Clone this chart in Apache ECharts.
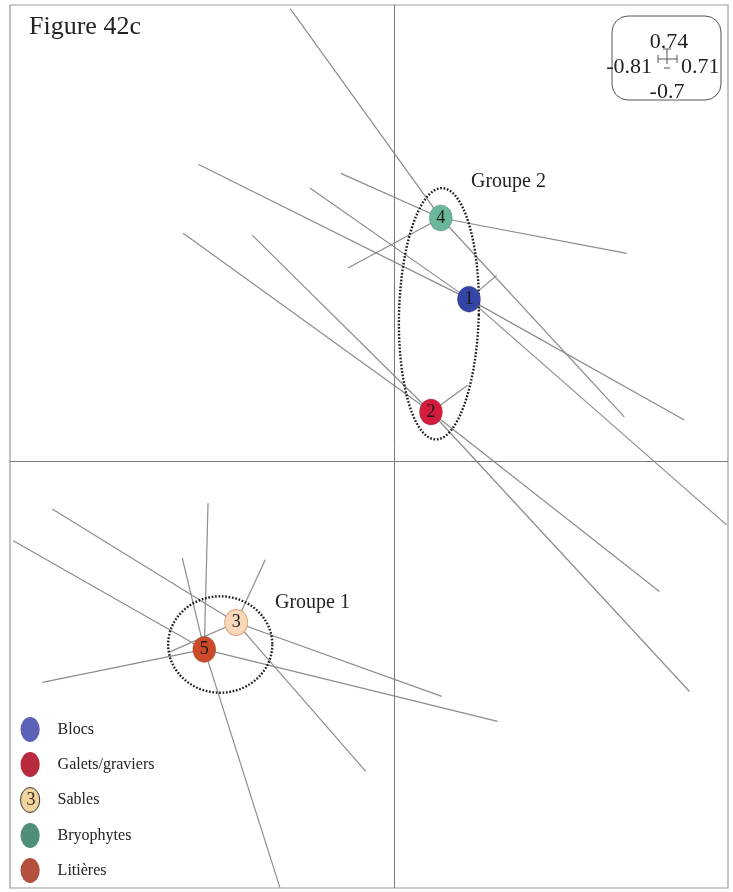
<!DOCTYPE html>
<html><head><meta charset="utf-8">
<script src="https://cdn.jsdelivr.net/npm/echarts@6/dist/echarts.min.js"></script>
<style>html,body{margin:0;padding:0;background:#fff}#c{width:733px;height:892px}</style>
</head><body><div id="c"></div>
<script>
// ---- data ----
const classNames  = ['Blocs', 'Galets/graviers', 'Sables', 'Bryophytes', 'Litières'];
const classLabels = ['1', '2', '3', '4', '5'];
const centroidX   = [0.160, 0.079, -0.336, 0.100, -0.404];
const centroidY   = [0.265, 0.080, -0.265, 0.398, -0.309];

const blocsX   = [-0.417, -0.179, 0.219, 0.619, 0.709];
const blocsY   = [ 0.486,  0.447, 0.304, 0.067, -0.105];
const galetsX  = [-0.449, -0.302, 0.157, 0.566, 0.630];
const galetsY  = [ 0.373,  0.370, 0.124, -0.214, -0.378];
const sablesX  = [-0.728, -0.274, 0.102, -0.060, -0.477];
const sablesY  = [-0.079, -0.162, -0.386, -0.509, -0.313];
const bryoX    = [-0.221, -0.113, -0.098, 0.496, 0.491];
const bryoY    = [ 0.741,  0.471,  0.316, 0.340, 0.072];
const litiereX = [-0.811, -0.749, -0.396, -0.451, -0.243, 0.221];
const litiereY = [-0.131, -0.363, -0.069, -0.159, -0.699, -0.427];

const groupNames   = ['Groupe 2', 'Groupe 1'];
const groupCenterX = [0.096, -0.370];
const groupCenterY = [0.241, -0.301];
const groupRadX    = [0.085, 0.111];
const groupRadY    = [0.206, 0.079];
const groupTiltDeg = [1.5, 0];

const xRange = [-0.818, 0.712];
const yRange = [-0.700, 0.747];
const scaleBoxLabels = ['0.74', '-0.81', '0.71', '-0.7'];
const figureTitle = 'Figure 42c';

// ---- styles ----
const markerColors = ['#3445a5', '#d41c3c', '#f7d8b8', '#6ab89a', '#cc4a28'];
const legendColors = ['#5b62b8', '#b82a3e', '#f0d49e', '#4f8f78', '#b4503e'];
const serif = '"Liberation Serif", "DejaVu Serif", serif';
const ellipsePath = 'path://M0,13a10,13 0 1,0 20,0a10,13 0 1,0 -20,0z';

const sampleX = [blocsX, galetsX, sablesX, bryoX, litiereX];
const sampleY = [blocsY, galetsY, sablesY, bryoY, litiereY];

const segs = [];
classNames.forEach((n, i) => {
  sampleX[i].forEach((x, j) => {
    segs.push({ coords: [[centroidX[i], centroidY[i]], [x, sampleY[i][j]]] });
  });
});

const series = [
  {
    type: 'lines', coordinateSystem: 'cartesian2d', data: segs, silent: true, z: 2,
    lineStyle: { color: '#8c8c8c', width: 1.2, opacity: 1 },
    markLine: {
      silent: true, symbol: 'none', label: { show: false },
      lineStyle: { color: '#7a7a7a', type: 'solid', width: 1 },
      data: [{ xAxis: 0 }, { yAxis: 0 }]
    }
  },
  {
    type: 'custom', coordinateSystem: 'cartesian2d', silent: true, z: 3,
    data: groupNames.map((n, i) => [groupCenterX[i], groupCenterY[i], groupRadX[i], groupRadY[i], groupTiltDeg[i]]),
    renderItem: function (params, api) {
      const c = api.coord([api.value(0), api.value(1)]);
      const s = api.size([api.value(2), api.value(3)]);
      const t = api.value(4) * Math.PI / 180;
      const pts = [];
      for (let k = 0; k < 160; k++) {
        const a = 2 * Math.PI * k / 160;
        const x = s[0] * Math.cos(a), y = s[1] * Math.sin(a);
        pts.push([c[0] + x * Math.cos(t) - y * Math.sin(t), c[1] + x * Math.sin(t) + y * Math.cos(t)]);
      }
      return { type: 'polygon', shape: { points: pts },
        style: { fill: 'none', stroke: '#1e1e1e', lineWidth: 2.4, lineDash: [1.7, 1.7] } };
    }
  }
];

classNames.forEach((n, i) => {
  series.push({
    type: 'scatter', name: n, z: 5,
    data: [[centroidX[i], centroidY[i]]],
    symbol: ellipsePath, symbolKeepAspect: false, symbolSize: [23, 26],
    itemStyle: { color: markerColors[i], borderColor: i === 2 ? '#e0a07a' : 'rgba(0,0,0,0.15)', borderWidth: 1, opacity: 1 },
    label: { show: true, position: 'inside', formatter: classLabels[i], color: '#1a1a1a',
      fontFamily: serif, fontSize: 18 },
    emphasis: { disabled: true }
  });
});

const chart = echarts.init(document.getElementById('c'), null, { renderer: 'canvas' });
chart.setOption({
  animation: false,
  backgroundColor: '#fff',
  grid: { left: 10, top: 5, right: 5, bottom: 4, show: true, borderColor: '#9a9a9a', borderWidth: 1.2, containLabel: false },
  xAxis: { type: 'value', min: xRange[0], max: xRange[1], show: false },
  yAxis: { type: 'value', min: yRange[0], max: yRange[1], show: false },
  legend: {
    orient: 'vertical', left: 20, top: 717, padding: 0, itemWidth: 21, itemHeight: 25, itemGap: 10,
    icon: ellipsePath, selectedMode: false,
    textStyle: { fontFamily: serif, fontSize: 16, color: '#222', padding: [0, 0, 0, 12] },
    data: classNames.map((n, i) => ({ name: n, itemStyle: { color: legendColors[i], borderColor: i === 2 ? '#333' : legendColors[i], borderWidth: i === 2 ? 1 : 0 } }))
  },
  graphic: [
    { type: 'text', left: 29, top: 14, style: { text: figureTitle, font: '26px ' + serif, fill: '#222' } },
    { type: 'text', left: 471, top: 172, style: { text: groupNames[0], font: '20px ' + serif, fill: '#222' } },
    { type: 'text', left: 275, top: 593, style: { text: groupNames[1], font: '20px ' + serif, fill: '#222' } },
    { type: 'text', x: 31, y: 800, z: 100, style: { text: '3', font: '18px ' + serif, fill: '#3a2a1a', align: 'center', verticalAlign: 'middle' } },
    { type: 'group', x: 612, y: 16, children: [
      { type: 'rect', shape: { x: 0, y: 0, width: 109, height: 84, r: 16 }, style: { fill: 'none', stroke: '#555', lineWidth: 1 } },
      { type: 'text', x: 57, y: 26, style: { text: scaleBoxLabels[0], font: '22px ' + serif, fill: '#222', align: 'center', verticalAlign: 'middle' } },
      { type: 'text', x: 40, y: 51, style: { text: scaleBoxLabels[1], font: '22px ' + serif, fill: '#222', align: 'right', verticalAlign: 'middle' } },
      { type: 'text', x: 69, y: 51, style: { text: scaleBoxLabels[2], font: '22px ' + serif, fill: '#222', align: 'left', verticalAlign: 'middle' } },
      { type: 'text', x: 55, y: 76, style: { text: scaleBoxLabels[3], font: '22px ' + serif, fill: '#222', align: 'center', verticalAlign: 'middle' } },
      { type: 'line', shape: { x1: 46, y1: 43, x2: 65, y2: 43 }, style: { stroke: '#555', lineWidth: 1 } },
      { type: 'line', shape: { x1: 55, y1: 33, x2: 55, y2: 48 }, style: { stroke: '#555', lineWidth: 1 } },
      { type: 'line', shape: { x1: 46, y1: 39, x2: 46, y2: 47 }, style: { stroke: '#555', lineWidth: 1 } },
      { type: 'line', shape: { x1: 65, y1: 39, x2: 65, y2: 47 }, style: { stroke: '#555', lineWidth: 1 } },
      { type: 'line', shape: { x1: 51, y1: 33, x2: 59, y2: 33 }, style: { stroke: '#555', lineWidth: 1 } },
      { type: 'line', shape: { x1: 52, y1: 52, x2: 58, y2: 52 }, style: { stroke: '#555', lineWidth: 1 } }
    ] }
  ],
  series: series
});
</script></body></html>
